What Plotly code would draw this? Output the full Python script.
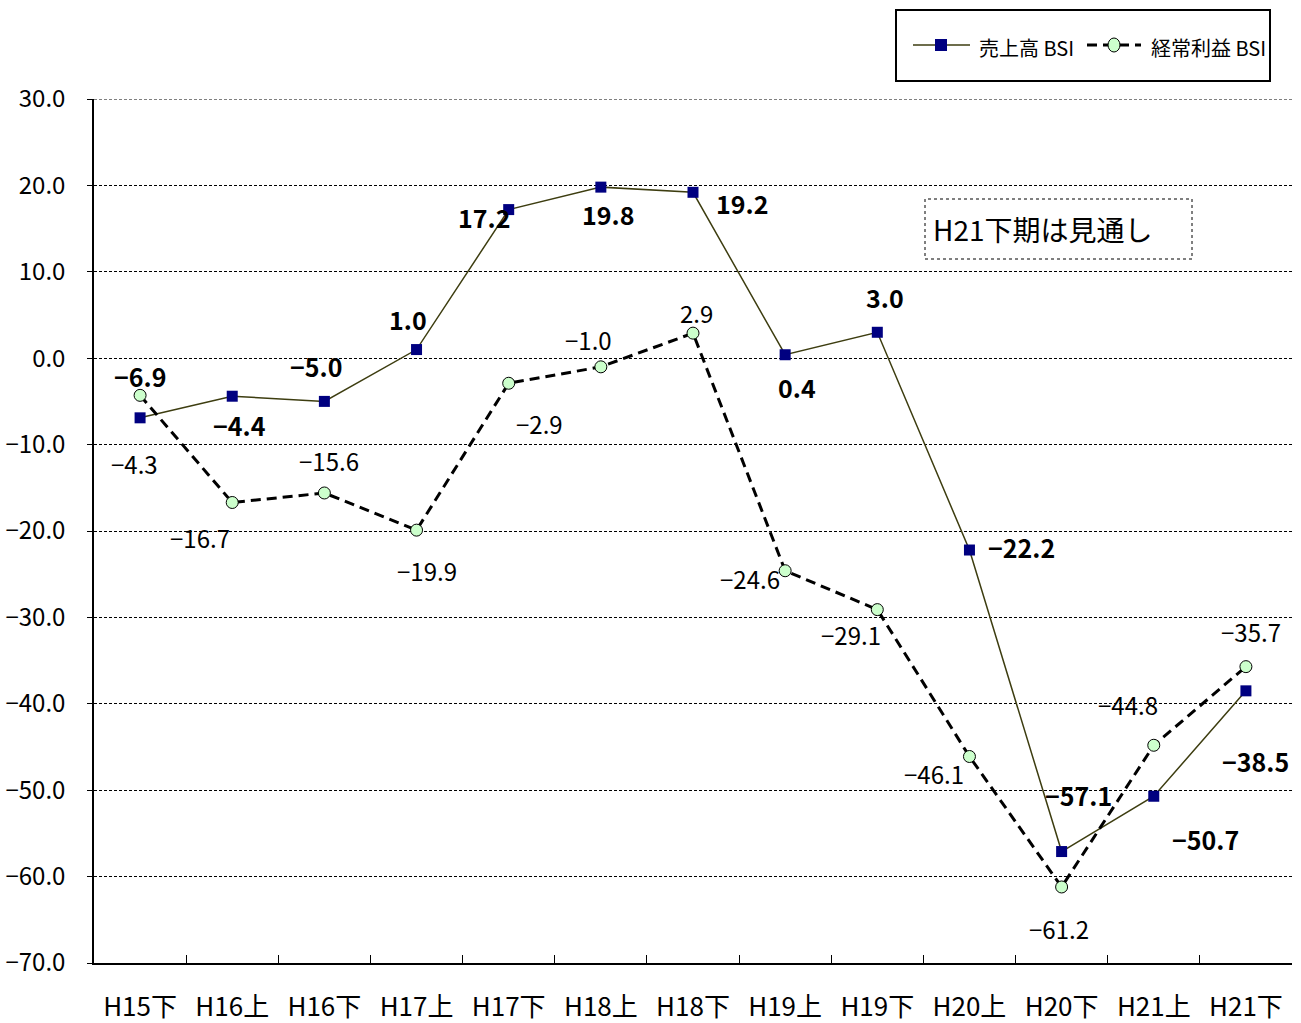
import plotly.graph_objects as go

# Period labels (fiscal half-years)
periods = ["H15下", "H16上", "H16下", "H17上", "H17下", "H18上", "H18下",
           "H19上", "H19下", "H20上", "H20下", "H21上", "H21下"]

# BSI values
sales_bsi = [-6.9, -4.4, -5.0, 1.0, 17.2, 19.8, 19.2, 0.4, 3.0, -22.2, -57.1, -50.7, -38.5]
profit_bsi = [-4.3, -16.7, -15.6, -19.9, -2.9, -1.0, 2.9, -24.6, -29.1, -46.1, -61.2, -44.8, -35.7]

# Label offsets in pixels (dx, dy) relative to each point
sales_label_off = [(0, 42), (7, -29), (-8, 35), (-9, 31), (-25, -7), (7, -27), (49, -11),
                   (12, -32), (8, 35), (52, 3), (17, 57), (52, -43), (10, -70)]
profit_label_off = [(-6, -68), (-32, -35), (5, 32), (10, -40), (31, -40), (-12, 27), (3, 21),
                    (-35, -8), (-26, -25), (-35, -17), (-3, -42), (-26, 41), (5, 35)]

FONT = "Noto Sans CJK JP, sans-serif"

# plot area in pixels
L, R, T, B = 94, 1292, 99, 963


def px(xp):
    return (xp - L) / (R - L)


def py(yp):
    return (B - yp) / (B - T)


SALES_LINE = "#3d3d10"
SALES_MARK = "#000080"
PROFIT_FILL = "#ccffcc"

fig = go.Figure()
fig.add_trace(go.Scatter(
    x=periods, y=sales_bsi, name="売上高 BSI", mode="lines+markers",
    line=dict(color=SALES_LINE, width=1.5),
    marker=dict(symbol="square", size=11, color=SALES_MARK),
))
fig.add_trace(go.Scatter(
    x=periods, y=profit_bsi, name="経常利益 BSI", mode="lines+markers",
    line=dict(color="black", width=3, dash="10px,6px"),
    marker=dict(symbol="circle", size=12, color=PROFIT_FILL,
                line=dict(color="black", width=1)),
))

annotations = []
for p, v, (dx, dy) in zip(periods, sales_bsi, sales_label_off):
    annotations.append(dict(x=p, y=v, text=f"<b>{v:.1f}</b>".replace("-", "−"),
                            showarrow=False, xshift=dx, yshift=dy,
                            font=dict(family=FONT, size=25, color="black")))
for p, v, (dx, dy) in zip(periods, profit_bsi, profit_label_off):
    annotations.append(dict(x=p, y=v, text=f"{v:.1f}".replace("-", "−"),
                            showarrow=False, xshift=dx, yshift=dy,
                            font=dict(family=FONT, size=24, color="black")))

# Forecast note
annotations.append(dict(xref="paper", yref="paper", x=px(1042), y=py(229),
                        xanchor="center", yanchor="middle",
                        text="H21下期は見通し", showarrow=False,
                        font=dict(family=FONT, size=28, color="black")))

shapes = [
    # note frame
    dict(type="rect", xref="paper", yref="paper",
         x0=px(925), x1=px(1192), y0=py(259), y1=py(199),
         line=dict(color="black", width=1, dash="dot")),
    # top gridline at 30.0
    dict(type="line", xref="paper", yref="y", x0=0, x1=1, y0=30, y1=30,
         line=dict(color="black", width=1, dash="3px,2px")),
    # legend frame
    dict(type="rect", xref="paper", yref="paper",
         x0=px(896), x1=px(1270), y0=py(81), y1=py(10),
         line=dict(color="black", width=2), fillcolor="white"),
    # legend sample: sales
    dict(type="line", xref="paper", yref="paper",
         x0=px(913), x1=px(970), y0=py(45), y1=py(45),
         line=dict(color=SALES_LINE, width=1.5)),
    dict(type="rect", xref="paper", yref="paper",
         x0=px(935), x1=px(947), y0=py(51), y1=py(39),
         line=dict(color=SALES_MARK, width=0), fillcolor=SALES_MARK),
    # legend sample: profit
    dict(type="line", xref="paper", yref="paper",
         x0=px(1087), x1=px(1141), y0=py(45), y1=py(45),
         line=dict(color="black", width=3, dash="10px,6px")),
    dict(type="circle", xref="paper", yref="paper",
         x0=px(1108), x1=px(1120), y0=py(52), y1=py(38),
         line=dict(color="black", width=1), fillcolor=PROFIT_FILL),
]

annotations.append(dict(xref="paper", yref="paper", x=px(977), y=py(47),
                        xanchor="left", yanchor="middle", text="売上高 BSI",
                        showarrow=False, font=dict(family=FONT, size=20, color="black")))
annotations.append(dict(xref="paper", yref="paper", x=px(1149), y=py(47),
                        xanchor="left", yanchor="middle", text="経常利益 BSI",
                        showarrow=False, font=dict(family=FONT, size=20, color="black")))

fig.update_layout(
    width=1301, height=1023,
    margin=dict(l=L, r=1301 - R, t=T, b=1023 - B, autoexpand=False),
    paper_bgcolor="white", plot_bgcolor="white",
    font=dict(family=FONT, color="black"),
    annotations=annotations,
    shapes=shapes,
    showlegend=False,
)
fig.update_xaxes(
    type="category", tickson="boundaries", ticks="inside", ticklen=8,
    tickcolor="black", showline=True, linecolor="black", linewidth=1.5,
    showgrid=False, tickfont=dict(family=FONT, size=26), automargin=False,
    ticklabelstandoff=20, range=[-0.5, 12.5],
)
fig.update_yaxes(
    range=[-70, 30], dtick=10, tickformat=".1f", ticks="outside", ticklen=5,
    tickcolor="black", showline=True, linecolor="black", linewidth=1.5,
    showgrid=True, gridcolor="black", gridwidth=1, griddash="3px,2px",
    zeroline=False, tickfont=dict(family=FONT, size=24), automargin=False,
    ticklabelstandoff=17,
)

fig.write_html("out.html")
